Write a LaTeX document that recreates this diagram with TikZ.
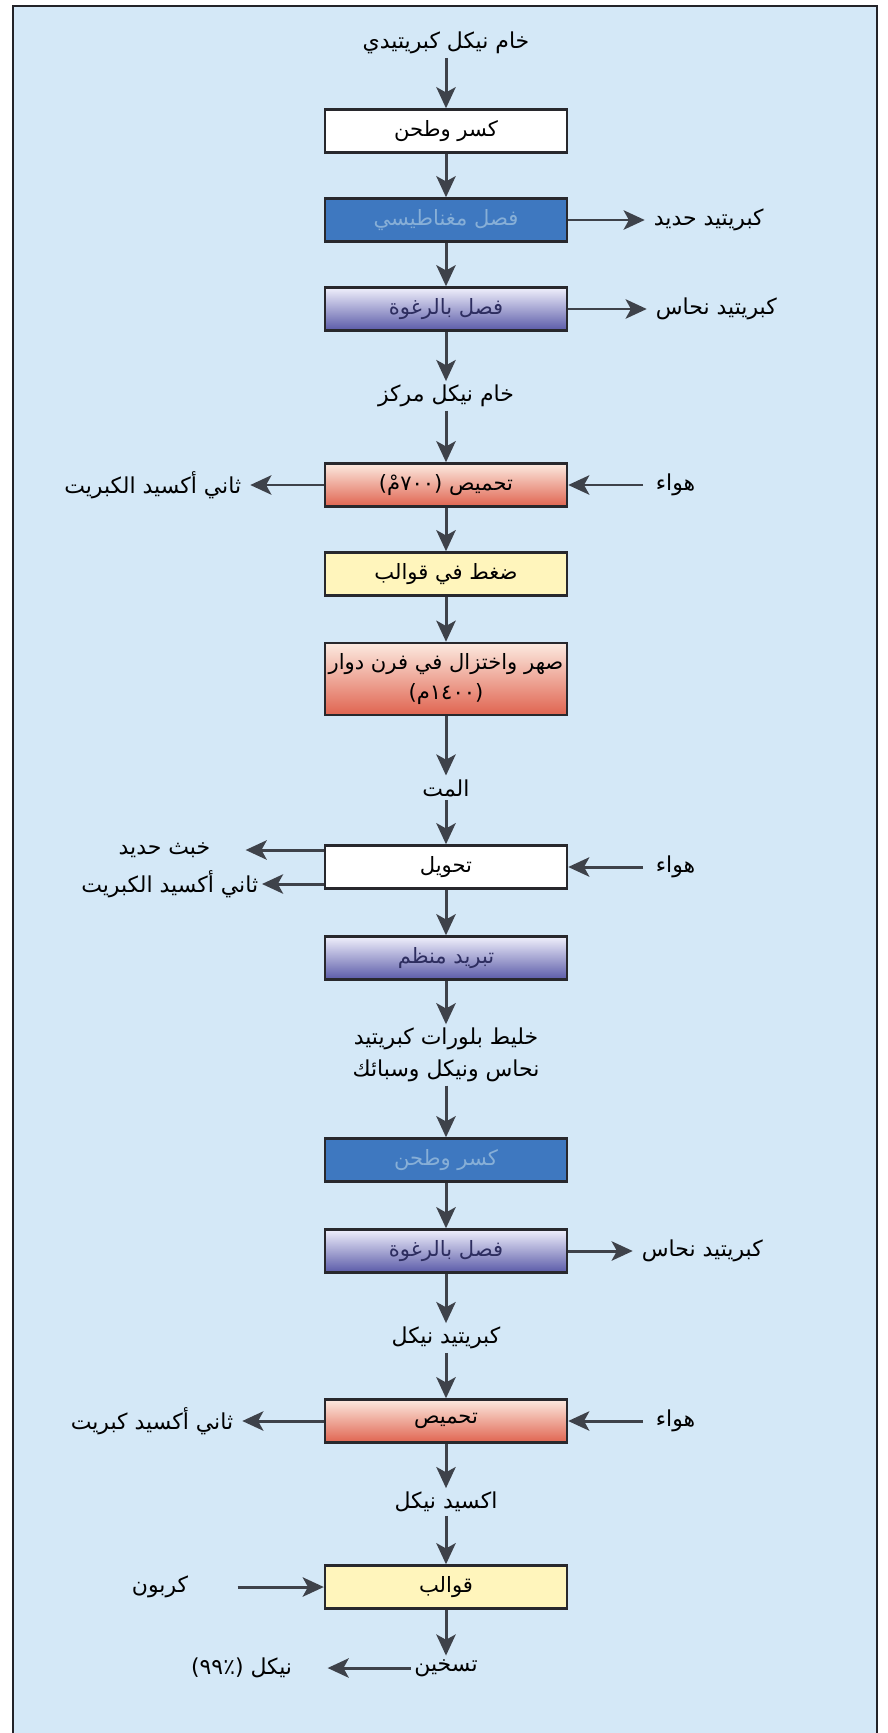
\documentclass[tikz,border=0pt]{standalone}
\usepackage{fontspec}
\usepackage{xcolor}
\usetikzlibrary{arrows.meta,shadings}
\newfontfamily\arabicfont[Script=Arabic]{DejaVu Sans}
\TeXXeTstate=1
\newcommand{\ar}[1]{{\arabicfont\beginR #1\endR}}
\definecolor{PageBlue}{RGB}{212,232,247}
\definecolor{FrameLine}{RGB}{35,35,40}
\definecolor{BoxLine}{RGB}{40,40,45}
\definecolor{ArrowGray}{RGB}{62,66,74}
\definecolor{MagBlue}{RGB}{62,120,192}
\definecolor{MagText}{RGB}{135,175,215}
\definecolor{FrothTop}{RGB}{240,240,252}
\definecolor{FrothBot}{RGB}{90,90,168}
\definecolor{FrothText}{RGB}{45,45,95}
\definecolor{RoastTop}{RGB}{252,234,224}
\definecolor{RoastBot}{RGB}{224,100,80}
\definecolor{MouldYellow}{RGB}{255,245,188}

\begin{document}
\begin{tikzpicture}[x=0.02cm,y=-0.02cm,
    box/.style={draw=BoxLine,line width=1.4pt,minimum width=4.84cm,
                minimum height=0.86cm,inner sep=2pt,align=center,
                font=\fontsize{12}{17}\selectfont},
    whitebox/.style={box,fill=white},
    bluebox/.style={box,fill=MagBlue,text=MagText},
    frothbox/.style={box,top color=FrothTop,bottom color=FrothBot,text=FrothText},
    roastbox/.style={box,top color=RoastTop,bottom color=RoastBot},
    mouldbox/.style={box,fill=MouldYellow},
    lbl/.style={font=\fontsize{12.5}{18}\selectfont,inner sep=2pt,align=center},
    arr/.style={-{Stealth[length=12pt,width=11pt,inset=3pt]},ArrowGray,line width=1.7pt}
  ]
  \useasboundingbox (0,0) rectangle (887,1733);
  % Frame
  \fill[white] (0,0) rectangle (887,1733);
  \fill[PageBlue] (13,6) rectangle (877,1733);
  \draw[FrameLine,line width=1.5pt] (13,1733) -- (13,6) -- (877,6) -- (877,1733);

  % Main line
  \node[lbl] (ore) at (446,43) {\ar{خام نيكل كبريتيدي}};
  \node[whitebox] (crush) at (446,131) {\ar{كسر وطحن}};
  \node[bluebox] (magsep) at (446,220) {\ar{فصل مغناطيسي}};
  \node[frothbox] (froth) at (446,309) {\ar{فصل بالرغوة}};
  \node[lbl] (conc) at (446,396) {\ar{خام نيكل مركز}};
  \node[roastbox] (roast) at (446,485) {\ar{تحميص (٧٠٠مْ)}};
  \node[mouldbox] (press) at (446,574) {\ar{ضغط في قوالب}};
  \node[roastbox,minimum height=1.44cm] (smelt) at (446,679)
    {\ar{صهر واختزال في فرن دوار}\\\ar{(١٤٠٠م)}};
  \node[lbl] (matte) at (446,788) {\ar{المت}};
  \node[whitebox] (convert) at (446,867) {\ar{تحويل}};
  \node[frothbox] (cool) at (446,958) {\ar{تبريد منظم}};
  \node[lbl] (mix) at (446,1055) {\ar{خليط بلورات كبريتيد}\\\ar{نحاس ونيكل وسبائك}};
  \node[bluebox] (crushb) at (446,1160) {\ar{كسر وطحن}};
  \node[frothbox] (frothb) at (446,1251) {\ar{فصل بالرغوة}};
  \node[lbl] (nis) at (446,1338) {\ar{كبريتيد نيكل}};
  \node[roastbox] (roastb) at (446,1421) {\ar{تحميص}};
  \node[lbl] (nio) at (446,1502) {\ar{اكسيد نيكل}};
  \node[mouldbox] (mould) at (446,1587) {\ar{قوالب}};
  \node[lbl] (heat) at (446,1668) {\ar{تسخين}};

  % Side streams
  \node[lbl,anchor=west] (fes) at (650,220) {\ar{كبريتيد حديد}};
  \node[lbl,anchor=west] (cus) at (652,309) {\ar{كبريتيد نحاس}};
  \node[lbl,anchor=east] (so2a) at (245,485) {\ar{ثاني أكسيد الكبريت}};
  \node[lbl,anchor=west] (aira) at (652,485) {\ar{هواء}};
  \node[lbl,anchor=east] (slag) at (214,850) {\ar{خبث حديد}};
  \node[lbl,anchor=east] (so2b) at (262,884) {\ar{ثاني أكسيد الكبريت}};
  \node[lbl,anchor=west] (airb) at (652,867) {\ar{هواء}};
  \node[lbl,anchor=west] (cusb) at (638,1251) {\ar{كبريتيد نحاس}};
  \node[lbl,anchor=east] (so2c) at (237,1421) {\ar{ثاني أكسيد كبريت}};
  \node[lbl,anchor=west] (airc) at (652,1421) {\ar{هواء}};
  \node[lbl,anchor=east] (carbon) at (192,1587) {\ar{كربون}};
  \node[lbl,anchor=east] (nickel) at (296,1668) {\ar{نيكل (٪٩٩)}};

  % Arrows down
  \draw[arr] (ore) -- (crush);
  \draw[arr] (crush) -- (magsep);
  \draw[arr] (magsep) -- (froth);
  \draw[arr] (froth) -- (conc);
  \draw[arr] (conc) -- (roast);
  \draw[arr] (roast) -- (press);
  \draw[arr] (press) -- (smelt);
  \draw[arr] (smelt) -- (matte);
  \draw[arr] (matte) -- (convert);
  \draw[arr] (convert) -- (cool);
  \draw[arr] (cool) -- (mix);
  \draw[arr] (mix) -- (crushb);
  \draw[arr] (crushb) -- (frothb);
  \draw[arr] (frothb) -- (nis);
  \draw[arr] (nis) -- (roastb);
  \draw[arr] (roastb) -- (nio);
  \draw[arr] (nio) -- (mould);
  \draw[arr] (mould) -- (heat);

  % Arrows out and in
  \draw[arr,shorten >=3pt] (magsep) -- (fes);
  \draw[arr,shorten >=3pt] (froth) -- (cus);
  \draw[arr,shorten >=3pt] (roast) -- (so2a);
  \draw[arr,shorten <=5pt] (aira) -- (roast);
  \draw[arr,shorten >=18pt] (convert.west |- slag) -- (slag);
  \draw[arr] (convert.west |- so2b) -- (so2b);
  \draw[arr,shorten <=5pt] (airb) -- (convert);
  \draw[arr,shorten >=3pt] (frothb) -- (cusb);
  \draw[arr,shorten >=3pt] (roastb) -- (so2c);
  \draw[arr,shorten <=5pt] (airc) -- (roastb);
  \draw[arr,shorten <=26pt] (carbon) -- (mould);
  \draw[arr,shorten >=18pt] (heat) -- (nickel);
\end{tikzpicture}
\end{document}
